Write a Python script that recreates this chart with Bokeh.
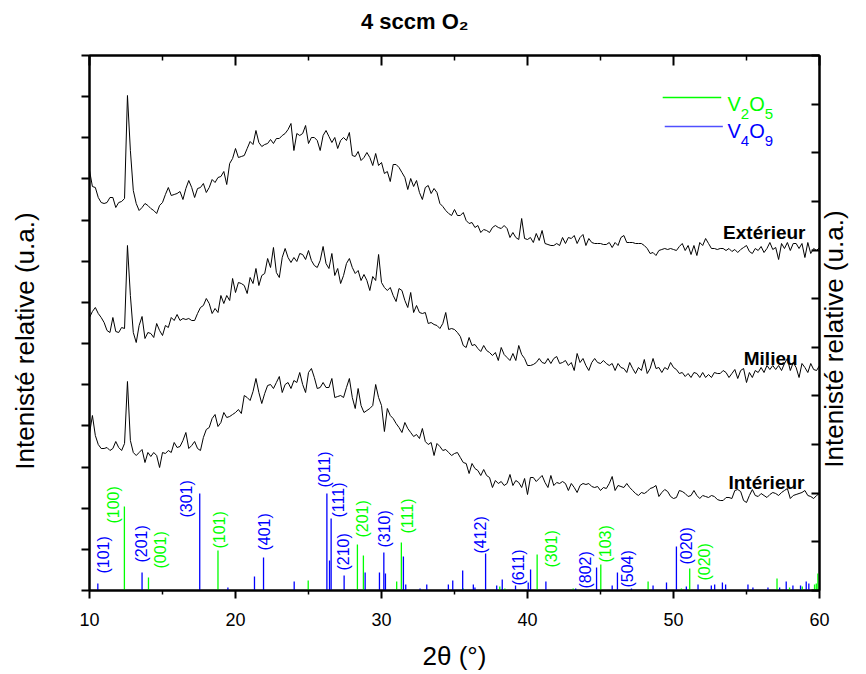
import numpy as np
from bokeh.plotting import figure
from bokeh.models import Range1d, LinearAxis, FixedTicker
from bokeh.core.properties import value
from bokeh.embed import file_html
from bokeh.resources import INLINE

# ---------------- data ----------------
# diffractograms (offset, arbitrary units), 2theta from 10 to 60 step 0.2
exterieur = [
    420, 404, 403, 393, 388, 387, 388, 393, 393, 383,
    388, 389, 392, 495, 440, 400, 387, 380, 383, 387,
    385, 382, 380, 377, 385, 388, 396, 403, 395, 396,
    397, 399, 391, 402, 410, 403, 393, 402, 403, 407,
    398, 403, 411, 408, 413, 414, 419, 406, 427, 432,
    442, 433, 434, 435, 442, 449, 446, 460, 448, 444,
    446, 447, 451, 447, 452, 452, 455, 457, 461, 467,
    440, 457, 455, 457, 465, 447, 453, 453, 450, 440,
    455, 460, 454, 448, 453, 442, 450, 453, 450, 458,
    435, 434, 439, 430, 433, 438, 433, 425, 437, 425,
    428, 417, 419, 409, 426, 426, 423, 418, 413, 401,
    412, 404, 410, 398, 391, 403, 405, 397, 402, 398,
    387, 384, 380, 377, 375, 381, 375,
    375, 378, 370, 367, 368, 363, 365, 358, 361, 360, 358, 363,
    365, 363, 362, 365, 362, 353, 358, 353, 351, 372, 352, 351,
    353, 348, 357, 350, 360, 347, 346, 345, 345, 347,
    345, 353, 347, 353, 352, 355, 347, 353, 356, 345,
    352, 348, 347, 347, 347, 346, 346, 348, 343, 348,
    345, 353, 355, 348, 348, 348, 347, 347, 347, 345,
    342, 337, 338, 335, 340, 341, 342, 341, 342, 341,
    340, 344, 347, 340, 345, 336, 345, 335, 348, 345,
    352, 347, 342, 342, 341, 342, 342, 340, 342, 339,
    341, 338, 341, 343, 345, 339, 337, 342, 340, 344,
    338, 342, 348, 341, 343, 331, 347, 342, 348, 340,
    347, 347, 342, 347, 333, 348, 337, 342, 340, 343,
]
milieu = [
    273, 279, 283, 277, 273, 268, 260, 258, 273, 259,
    258, 263, 262, 345, 295, 258, 248, 265, 274, 252,
    258, 257, 253, 267, 260, 255, 265, 263, 273, 270,
    276, 270, 272, 271, 272, 270, 270, 277, 283, 285,
    292, 287, 277, 282, 278, 295, 287, 295, 290, 312,
    298, 308, 307, 305, 297, 313, 307, 322, 305, 315,
    317, 332, 323, 343, 318, 313, 333, 342, 333, 328,
    333, 329, 337, 336, 331, 340, 330, 325, 323, 330,
    344, 327, 322, 337, 315, 322, 307, 315, 327, 332,
    323, 317, 320, 310, 316, 310, 300, 314, 310, 336,
    308, 303, 300, 303, 295, 289, 302, 300, 290, 283,
    298, 278, 285, 278, 277, 278, 267, 268, 266, 265,
    262, 267, 278, 261, 262, 261, 258,
    254, 245, 243, 253, 245, 246, 242, 239, 245, 240, 238, 235,
    238, 230, 243, 236, 233, 230, 237, 230, 245, 236, 232, 225,
    225, 226, 228, 232, 228, 227, 232, 227, 232, 234,
    227, 228, 230, 225, 228, 220, 237, 228, 232, 225,
    220, 228, 232, 228, 227, 230, 227, 225, 227, 220,
    227, 223, 222, 218, 228, 222, 217, 223, 220, 231,
    217, 222, 232, 222, 223, 218, 223, 221, 228, 223,
    221, 217, 218, 214, 217, 213, 218, 217, 213, 218,
    213, 216, 213, 218, 217, 217, 220, 218, 213, 217,
    221, 212, 220, 222, 208, 218, 213, 220, 218, 223,
    218, 225, 221, 225, 221, 225, 220, 227, 232, 220,
    228, 223, 213, 227, 223, 218, 227, 221, 220, 225,
]
interieur = [
    157, 175, 155, 146, 142, 142, 143, 140, 142, 149,
    143, 140, 147, 209, 150, 138, 135, 138, 141, 128,
    138, 134, 138, 135, 123, 138, 137, 140, 138, 148,
    143, 144, 150, 158, 142, 145, 149, 142, 140, 153,
    161, 163, 172, 176, 164, 168, 178, 173, 174, 176,
    178, 181, 177, 195, 193, 190, 199, 212, 198, 187,
    197, 205, 206, 202, 208, 214, 198, 206, 208, 202,
    210, 208, 218, 206, 198, 218, 222, 213, 202, 203,
    208, 203, 203, 212, 193, 194, 195, 193, 203, 212,
    193, 182, 202, 185, 178, 180, 182, 185, 206, 193,
    185, 159, 182, 175, 172, 167, 163, 158, 168, 162,
    158, 154, 156, 152, 162, 149, 146, 148, 135, 147,
    144, 140, 141, 138, 135, 137, 138,
    133, 128, 127, 117, 127, 122, 120, 115, 121, 115,
    113, 103, 110, 107, 109, 105, 107, 116, 105, 110,
    108, 103, 112, 96, 113, 113, 109, 112, 115, 108,
    103, 115, 105, 108, 107, 109, 107, 100, 107, 103, 98,
    105, 107, 106, 107, 104, 103, 104, 100, 103, 102,
    107, 114, 100, 105, 104, 103, 107, 103, 100, 97,
    95, 98, 97, 99, 102, 103, 105, 94, 98, 101,
    99, 94, 92, 93, 100, 99, 97, 94, 95, 100,
    95, 92, 95, 94, 93, 95, 94, 91, 90, 90,
    93, 93, 92, 100, 101, 99, 90, 88, 95, 101,
    95, 94, 97, 95, 93, 96, 98, 97, 95, 98,
    100, 102, 92, 95, 96, 97, 98, 100, 95, 94,
    92, 95, 97,
]

# reference patterns (2theta, relative intensity)
v2o5_pos = [12.39, 14.04, 18.80, 24.98, 28.35, 28.76, 31.04, 31.36, 35.60, 38.10,
            38.45, 40.66, 43.13, 45.02, 48.26, 50.54, 51.11, 57.09, 57.95, 58.82,
            59.66, 59.78, 59.89]
v2o5_int = [84, 13, 40, 10, 46, 35, 9, 48, 2, 4,
            2, 36, 2, 26, 9, 2, 22, 12, 3, 4,
            6, 7, 17]
v4o9_pos = [10.57, 13.60, 17.55, 19.48, 21.30, 21.92, 24.02, 26.26, 26.44, 26.55,
            27.44, 28.88, 29.86, 30.16, 30.27, 31.50, 31.66, 32.64, 33.10, 34.58,
            34.88, 35.56, 36.29, 36.40, 37.13, 37.89, 38.27, 39.18, 40.05, 40.21,
            41.26, 43.30, 44.73, 45.80, 46.16, 47.12, 48.60, 49.52, 50.20, 50.88,
            51.68, 52.59, 52.82, 53.35, 53.57, 55.10, 55.44, 56.47, 57.27, 57.72,
            58.18, 58.70, 59.09, 59.27]
v4o9_int = [7, 18, 97, 3, 14, 33, 9, 97, 30, 72,
            15, 18, 18, 38, 17, 34, 6, 2, 6, 6,
            10, 20, 6, 3, 37, 5, 11, 5, 8, 21,
            9, 2, 23, 5, 18, 2, 5, 8, 44, 4,
            6, 5, 6, 8, 6, 6, 3, 3, 3, 9,
            5, 5, 9, 7]

# Miller index labels
v2o5_hkl = ["(100)", "(001)", "(101)", "(201)", "(111)", "(301)", "(103)", "(020)"]
v2o5_hkl_x = [11.63, 14.89, 18.90, 28.67, 31.78, 41.65, 45.36, 52.13]
v2o5_hkl_y = [67, 22, 42, 53, 57, 23, 28, 10]
v4o9_hkl = ["(101)", "(201)", "(301)", "(401)", "(011)", "(111)", "(210)", "(310)",
            "(412)", "(611)", "(802)", "(504)", "(020)"]
v4o9_hkl_x = [10.99, 13.54, 16.63, 21.97, 26.10, 27.07, 27.40, 30.22,
              36.80, 39.35, 43.97, 46.88, 50.87]
v4o9_hkl_y = [17, 28, 73, 40, 103, 73, 20, 43, 37, 5, 2, 3, 26]

x_ticks = [10, 20, 30, 40, 50, 60]
x_minor = [15, 25, 35, 45, 55]

FONT = "Liberation Sans"
GREEN = "#00ff00"
BLUE = "#0000ff"
YLABEL = "Intenisté relative (u.a.)"
TITLE = "4 sccm O\u2082"
NB = "\u00a0"

# ---------------- figure ----------------
W, H = 866, 674
FL, FR, FT, FB = 89, 820, 55, 590          # frame edges on the page
p = figure(width=W, height=H, output_backend="svg", toolbar_location=None,
           x_range=Range1d(10, 60), y_range=Range1d(0, 535),
           x_axis_type=None, y_axis_type=None)
p.min_border_left = FL
p.min_border_right = W - FR
p.min_border_top = FT
p.min_border_bottom = H - FB
p.outline_line_color = "black"
p.outline_line_width = 2
p.background_fill_color = "white"
p.border_fill_color = "white"
p.extra_y_ranges = {"left": Range1d(0, 13), "right": Range1d(0, 11)}
p.title.text = ""


def style_axis(ax):
    ax.axis_line_width = 2
    ax.axis_line_color = "black"
    ax.major_tick_line_width = 2
    ax.minor_tick_line_width = 1.5
    ax.major_tick_line_color = "black"
    ax.minor_tick_line_color = "black"
    ax.major_label_text_font = FONT
    ax.axis_label_text_font = FONT
    ax.axis_label_text_font_style = "normal"
    ax.axis_label_text_color = "black"
    ax.major_label_text_color = "black"


bottom = LinearAxis(ticker=FixedTicker(ticks=x_ticks, minor_ticks=x_minor))
style_axis(bottom)
bottom.major_tick_out = 8
bottom.major_tick_in = 0
bottom.minor_tick_out = 4
bottom.minor_tick_in = 0
bottom.major_label_text_font_size = "18px"
bottom.major_label_standoff = 14
bottom.axis_label = "2\u03b8 (\u00b0)"
bottom.axis_label_text_font_size = "26px"
bottom.axis_label_standoff = 12
p.add_layout(bottom, "below")

# top axis carries the chart title as its label
top = LinearAxis(ticker=FixedTicker(ticks=x_ticks, minor_ticks=x_minor))
style_axis(top)
top.major_tick_out = 0
top.major_tick_in = 10
top.minor_tick_out = 0
top.minor_tick_in = 5
top.major_label_overrides = {t: "" for t in x_ticks}
top.major_label_text_font_size = "1px"
top.major_label_standoff = 0
top.axis_label = TITLE + NB * 13
top.axis_label_text_font_size = "22px"
top.axis_label_text_font_style = "bold"
top.axis_label_standoff = 22
p.add_layout(top, "above")

left = LinearAxis(y_range_name="left",
                  ticker=FixedTicker(ticks=list(range(0, 14)), minor_ticks=[]))
style_axis(left)
left.major_tick_out = 8
left.major_tick_in = 0
left.major_label_overrides = {t: "" for t in range(0, 14)}
left.major_label_text_font_size = "1px"
left.major_label_standoff = 0
left.axis_label = YLABEL + NB * 5
left.axis_label_text_font_size = "26px"
left.axis_label_standoff = 42
p.add_layout(left, "left")

right = LinearAxis(y_range_name="right",
                   ticker=FixedTicker(ticks=list(range(0, 12)), minor_ticks=[]))
style_axis(right)
right.major_tick_out = 0
right.major_tick_in = 8
right.major_label_overrides = {t: "" for t in range(0, 12)}
right.major_label_text_font_size = "1px"
right.major_label_standoff = 0
right.axis_label_text_font_size = "26px"
right.axis_label_standoff = 14
right_label = YLABEL + NB * 5
try:
    right.axis_label_orientation = np.pi / 2
    try:
        right.axis_label_align = "start"
        right_label = NB * 17 + YLABEL
    except Exception:
        pass
except Exception:
    pass
right.axis_label = right_label
p.add_layout(right, "right")

# diffractograms
for ys in (exterieur, milieu, interieur):
    xs = [round(10 + 0.2 * i, 1) for i in range(len(ys))]
    p.line(xs, ys, line_color="black", line_width=1)

# stick patterns
p.segment(x0=v2o5_pos, y0=[0] * len(v2o5_pos), x1=v2o5_pos, y1=v2o5_int,
          line_color=GREEN, line_width=1.3)
p.segment(x0=v4o9_pos, y0=[0] * len(v4o9_pos), x1=v4o9_pos, y1=v4o9_int,
          line_color=BLUE, line_width=1.3)

# hkl labels
p.text(x=v2o5_hkl_x, y=v2o5_hkl_y, text=v2o5_hkl, angle=np.pi / 2,
       text_align="left", text_baseline="middle", text_color=GREEN,
       text_font=value(FONT), text_font_size="16px")
p.text(x=v4o9_hkl_x, y=v4o9_hkl_y, text=v4o9_hkl, angle=np.pi / 2,
       text_align="left", text_baseline="middle", text_color=BLUE,
       text_font=value(FONT), text_font_size="16px")

# curve names
p.text(x=[59.04, 58.5, 58.97], y=[358, 232, 108],
       text=["Extérieur", "Milieu", "Intérieur"],
       text_align="right", text_baseline="alphabetic", text_color="black",
       text_font=value(FONT), text_font_size="19px", text_font_style="bold")

# legend (lines + composed sub-scripted formulas)
p.segment(x0=[49.26], y0=[493], x1=[53.27], y1=[493], line_color=GREEN, line_width=1.6)
p.segment(x0=[49.40], y0=[464], x1=[53.38], y1=[464], line_color="#5050ff", line_width=1.6)
for yb, col, parts in ((487, GREEN, ["V", "2", "O", "5"]),
                       (460, BLUE, ["V", "4", "O", "9"])):
    offs = [0, 13.3, 21.7, 37.3]
    for k, (txt, dx) in enumerate(zip(parts, offs)):
        sub = k % 2 == 1
        p.text(x=[53.7], y=[yb], text=[txt], x_offset=dx, y_offset=10 if sub else 0,
               text_align="left", text_baseline="alphabetic", text_color=col,
               text_font=value(FONT), text_font_size="15px" if sub else "20px")

open("out.html", "w").write(file_html(p, INLINE))
